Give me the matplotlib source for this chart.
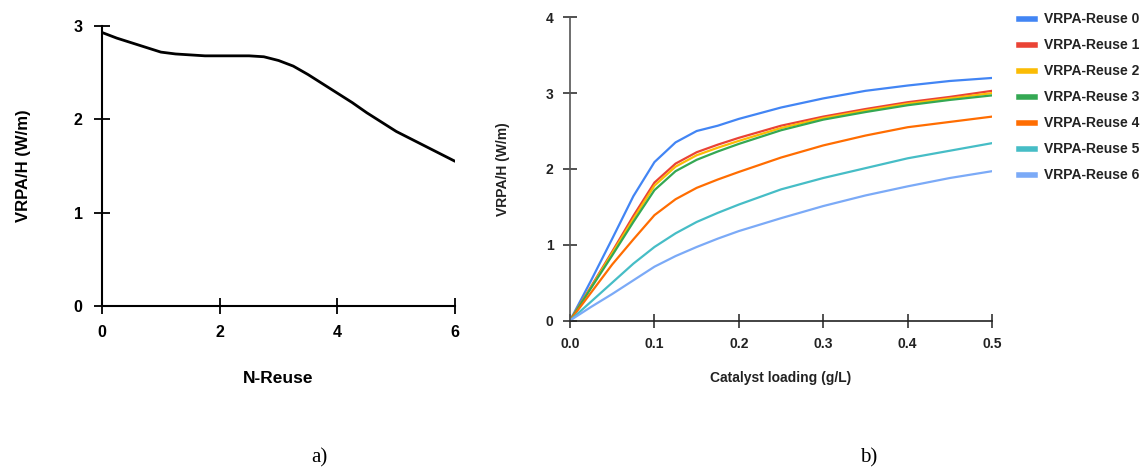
import numpy as np
from matplotlib import pyplot as plt

plt.rcParams['font.family'] = ['Liberation Sans', 'DejaVu Sans']

# panel a) - VRPA/H vs number of reuses
n_reuse = [0, 0.25, 0.5, 0.75, 1, 1.25, 1.5, 1.75, 2, 2.25, 2.5, 2.75, 3,
           3.25, 3.5, 3.75, 4, 4.25, 4.5, 4.75, 5, 5.25, 5.5, 5.75, 6]
vrpa_reuse = [2.93, 2.87, 2.82, 2.77, 2.72, 2.70, 2.69, 2.68, 2.68, 2.68, 2.68, 2.67, 2.63,
              2.57, 2.48, 2.38, 2.28, 2.18, 2.07, 1.97, 1.87, 1.79, 1.71, 1.63, 1.55]

# panel b) - VRPA/H vs catalyst loading for each reuse cycle
loading = [0, 0.025, 0.05, 0.075, 0.1, 0.125, 0.15, 0.175, 0.2, 0.25, 0.3, 0.35, 0.4, 0.45, 0.5]
reuse0 = [0, 0.53, 1.08, 1.64, 2.09, 2.35, 2.50, 2.57, 2.66, 2.81, 2.93, 3.03, 3.10, 3.16, 3.20]
reuse1 = [0, 0.45, 0.91, 1.38, 1.82, 2.07, 2.22, 2.32, 2.41, 2.57, 2.69, 2.79, 2.88, 2.95, 3.03]
reuse2 = [0, 0.44, 0.89, 1.34, 1.78, 2.03, 2.18, 2.28, 2.37, 2.54, 2.67, 2.77, 2.86, 2.93, 3.00]
reuse3 = [0, 0.43, 0.86, 1.30, 1.72, 1.97, 2.12, 2.23, 2.33, 2.51, 2.65, 2.75, 2.84, 2.91, 2.97]
reuse4 = [0, 0.37, 0.74, 1.07, 1.39, 1.60, 1.75, 1.86, 1.96, 2.15, 2.31, 2.44, 2.55, 2.62, 2.69]
reuse5 = [0, 0.25, 0.50, 0.75, 0.97, 1.15, 1.30, 1.42, 1.53, 1.73, 1.88, 2.01, 2.14, 2.24, 2.34]
reuse6 = [0, 0.18, 0.35, 0.53, 0.71, 0.85, 0.97, 1.08, 1.18, 1.35, 1.51, 1.65, 1.77, 1.88, 1.97]
series = [reuse0, reuse1, reuse2, reuse3, reuse4, reuse5, reuse6]
labels = ['VRPA-Reuse %d' % i for i in range(7)]
colors = ['#4285F4', '#EA4335', '#FBBC04', '#34A853', '#FF6D01', '#46BDC6', '#7BAAF7']

fig = plt.figure(figsize=(11.44, 4.73), dpi=100)

# ---- panel a
ax1 = fig.add_axes([0.0892, 0.3531, 0.3086, 0.592])
ax1.plot(n_reuse, vrpa_reuse, color='black', lw=2.0, solid_joinstyle='round',
         solid_capstyle='round')
ax1.set_xlim(0, 6)
ax1.set_ylim(0, 3)
ax1.set_xticks([0, 2, 4, 6])
ax1.set_yticks([0, 1, 2, 3])
for s in ['top', 'right']:
    ax1.spines[s].set_visible(False)
for s in ['left', 'bottom']:
    ax1.spines[s].set_linewidth(1.5)
ax1.tick_params(direction='inout', length=12, width=1.3, labelsize=11.5, pad=8)
for lab in ax1.get_xticklabels() + ax1.get_yticklabels():
    lab.set_fontweight('bold')
ax1.set_xlabel('N-Reuse', fontsize=12.5, fontweight='bold', labelpad=22)
ax1.set_ylabel('VRPA/H (W/m)', fontsize=12, fontweight='bold', labelpad=31)
ax1.patch.set_alpha(0)

# ---- panel b
ax2 = fig.add_axes([0.4983, 0.3224, 0.3689, 0.641])
for y, lab, c in zip(series, labels, colors):
    ax2.plot(loading, y, color=c, lw=1.6, label=lab, solid_joinstyle='round')
ax2.set_xlim(0, 0.5)
ax2.set_ylim(0, 4)
ax2.set_xticks([0, 0.1, 0.2, 0.3, 0.4, 0.5])
ax2.set_xticklabels(['0.0', '0.1', '0.2', '0.3', '0.4', '0.5'])
ax2.set_yticks([0, 1, 2, 3, 4])
for s in ['top', 'right']:
    ax2.spines[s].set_visible(False)
ax2.spines['left'].set_color('#555555')
ax2.spines['bottom'].set_color('#222222')
ax2.spines['left'].set_linewidth(1.2)
ax2.spines['bottom'].set_linewidth(1.2)
ax2.tick_params(direction='inout', length=10, width=1.1, labelsize=10, pad=7, colors='#222222')
for lab in ax2.get_xticklabels() + ax2.get_yticklabels():
    lab.set_fontweight('bold')
ax2.set_xlabel('Catalyst loading (g/L)', fontsize=10, fontweight='bold', labelpad=14, color='#222222')
ax2.set_ylabel('VRPA/H (W/m)', fontsize=10, fontweight='bold', labelpad=26, color='#222222')
leg = ax2.legend(loc='upper left', bbox_to_anchor=(1.035, 1.058), frameon=False,
                 handlelength=1.1, handleheight=0.4, handletextpad=0.65,
                 labelspacing=0.86, prop={'weight': 'bold', 'size': 10})
for h in leg.get_lines():
    h.set_linewidth(4)
for t in leg.get_texts():
    t.set_color('#222222')

# captions
fig.text(0.272, 0.023, 'a)', fontsize=15, family=['Liberation Serif', 'DejaVu Serif'])
fig.text(0.752, 0.023, 'b)', fontsize=15, family=['Liberation Serif', 'DejaVu Serif'])

fig.savefig('out.png', dpi=100)
